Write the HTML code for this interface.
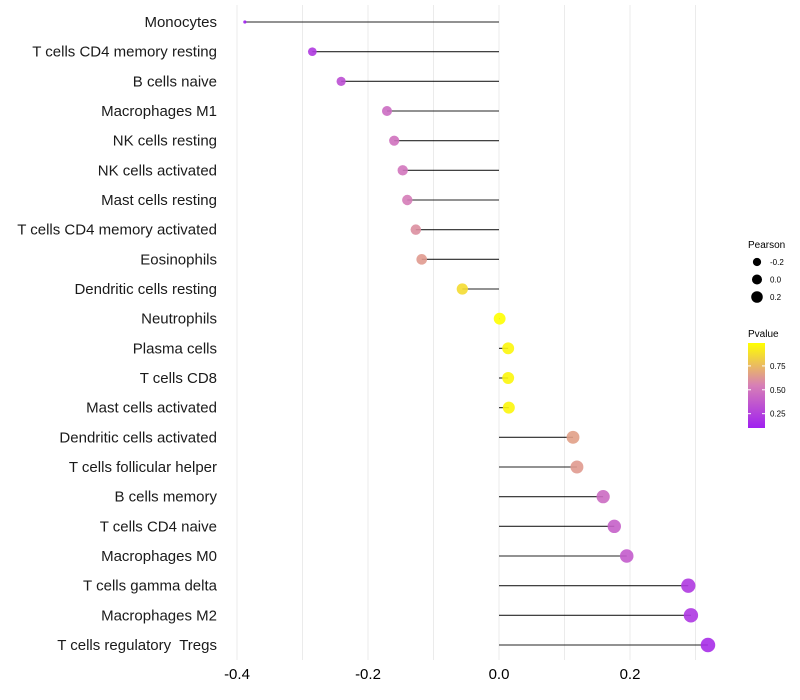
<!DOCTYPE html>
<html><head><meta charset="utf-8"><style>
body{margin:0;background:#fff;}
svg{display:block;font-family:"Liberation Sans",sans-serif;}
text{white-space:pre;}
</style></head><body>
<svg id="chart" width="800" height="700">
<defs><linearGradient id="pg" x1="0" y1="1" x2="0" y2="0">
<stop offset="0" stop-color="#A020F0"/><stop offset="0.5" stop-color="#D77FB6"/><stop offset="1" stop-color="#FFFF00"/>
</linearGradient></defs>
<g id="grid"></g><g id="marks"></g><g id="labels"></g><g id="xaxis"></g>
<g>
<text x="748" y="248" font-size="10">Pearson</text>
<g id="sizeleg"></g>
<text x="748" y="337" font-size="10">Pvalue</text>
<rect x="748" y="343" width="17" height="85" fill="url(#pg)"/>
<g id="colleg"></g>
</g>
</svg>
<script>
const categories=["Monocytes","T cells CD4 memory resting","B cells naive","Macrophages M1","NK cells resting","NK cells activated","Mast cells resting","T cells CD4 memory activated","Eosinophils","Dendritic cells resting","Neutrophils","Plasma cells","T cells CD8","Mast cells activated","Dendritic cells activated","T cells follicular helper","B cells memory","T cells CD4 naive","Macrophages M0","T cells gamma delta","Macrophages M2","T cells regulatory  Tregs"];
const pearson=[-0.388,-0.285,-0.241,-0.171,-0.160,-0.147,-0.140,-0.127,-0.118,-0.056,0.001,0.014,0.014,0.015,0.113,0.119,0.159,0.176,0.195,0.289,0.293,0.319];
const pvalue=[0.10,0.22,0.32,0.45,0.48,0.50,0.53,0.60,0.64,0.87,0.99,0.96,0.96,0.96,0.66,0.64,0.45,0.40,0.38,0.22,0.21,0.16];
const xTicks=[-0.4,-0.2,0.0,0.2];
const xTickLabels=["-0.4","-0.2","0.0","0.2"];
const minorTicks=[-0.3,-0.1,0.1,0.3];
const sizeLegend=[-0.2,0.0,0.2];
const colorLegend=[0.25,0.50,0.75];
const NS="http://www.w3.org/2000/svg";
const X=v=>499+v*655;
const Y=i=>22+i*(623/21);
const pMin=0.10,pMax=0.99;
const CY=p=>428-(p-pMin)/(pMax-pMin)*85;
const sMin=-0.388,sMax=0.319;
const R=v=>{const t=(v-sMin)/(sMax-sMin);return t<0.02?1.6:Math.sqrt(13+t*40);};
function lerp(a,b,t){return a.map((x,i)=>Math.round(x+(b[i]-x)*t));}
function col(p){let t=Math.max(0,Math.min(1,(p-pMin)/(pMax-pMin)));
const A=[160,32,240],M=[215,127,182],B=[255,255,0];
const c=t<0.5?lerp(A,M,t*2):lerp(M,B,(t-0.5)*2);return `rgb(${c})`;}
function mk(tag,at,parent){const e=document.createElementNS(NS,tag);for(const k in at)e.setAttribute(k,at[k]);parent.appendChild(e);return e;}
const grid=document.getElementById('grid'),marks=document.getElementById('marks'),labels=document.getElementById('labels'),xa=document.getElementById('xaxis');
xTicks.concat(minorTicks).forEach(v=>{const l=mk('line',{x1:X(v),x2:X(v),y1:5,y2:660,stroke:'#ebebeb','stroke-width':1},grid);

});
xTicks.forEach((v,i)=>{const t=mk('text',{x:X(v),y:679,'font-size':15,'text-anchor':'middle',fill:'#000'},xa);t.textContent=xTickLabels[i];

});
categories.forEach((c,i)=>{const y=Y(i);
const ln=mk('line',{x1:X(0),x2:X(pearson[i]),y1:y,y2:y,stroke:'#000','stroke-width':1.1,'stroke-opacity':0.85},marks);


const d=mk('circle',{cx:X(pearson[i]),cy:y,r:R(pearson[i]),fill:col(pvalue[i]),'fill-opacity':0.9},marks);


const t=mk('text',{x:217,y:y+5,'font-size':15,'text-anchor':'end',fill:'#1a1a1a'},labels);t.textContent=c;

});
const sl=document.getElementById('sizeleg');
sizeLegend.forEach((v,i)=>{const y=262+i*17.5;
const c=mk('circle',{cx:757,cy:y,r:R(v)*0.85,fill:'#000'},sl);


const t=mk('text',{x:770,y:y+3,'font-size':8},sl);t.textContent=v.toFixed(1);

});
const cl=document.getElementById('colleg');
colorLegend.forEach(v=>{const y=CY(v);
const a=mk('line',{x1:748,x2:751,y1:y,y2:y,stroke:'#fff'},cl);
const b=mk('line',{x1:762,x2:765,y1:y,y2:y,stroke:'#fff'},cl);
const t=mk('text',{x:770,y:y+3,'font-size':8},cl);t.textContent=v.toFixed(2);

});
</script>
</body></html>
